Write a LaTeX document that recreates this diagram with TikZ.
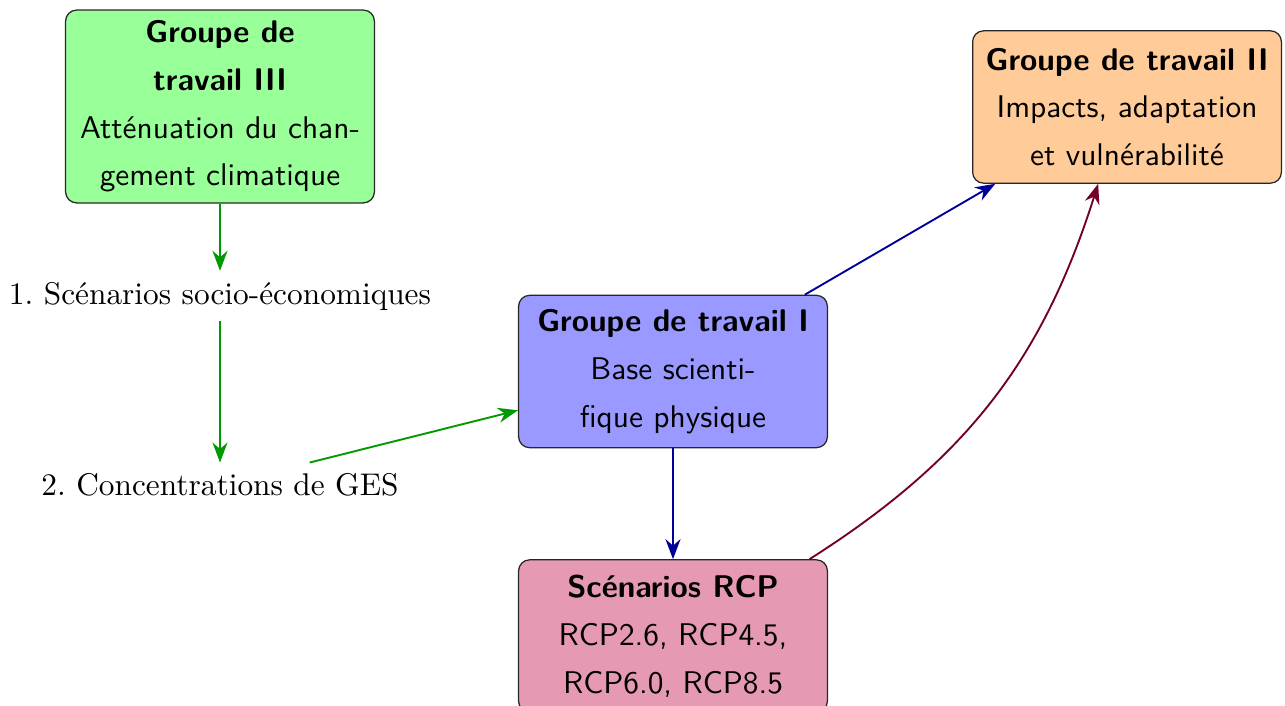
\documentclass[tikz,border=0pt]{standalone}
\usepackage{fontspec}
\usepackage{tikz}
\usetikzlibrary{arrows.meta}

\begin{document}
\begin{tikzpicture}
  [x=0.319pt,y=-0.319pt,
   wgbox/.style={draw=black!85,rounded corners=3.5pt,align=center,minimum width=98.5pt,
     minimum height=48.6pt,font={\sffamily\linespread{1.27}\selectfont}},
   garrow/.style={draw=green!60!black,semithick,-{Stealth[length=6.4pt,width=4.8pt]}},
   barrow/.style={draw=blue!60!black,semithick,-{Stealth[length=6.4pt,width=4.8pt]}},
   parrow/.style={draw=purple!60!black,semithick,-{Stealth[length=6.4pt,width=4.8pt]}}]
  \useasboundingbox (0,0) rectangle (1285,706);

  \node[wgbox,fill=green!40] (g3) at (220,106.5) {\textbf{Groupe de}\\\textbf{travail III}\\Atténuation du chan-\\gement climatique};
  \node[wgbox,fill=orange!40] (g2) at (1127,107) {\textbf{Groupe de travail II}\\Impacts, adaptation\\et vulnérabilité};
  \node[wgbox,fill=blue!40] (g1) at (673,371.5) {\textbf{Groupe de travail I}\\Base scienti-\\fique physique};
  \node[wgbox,fill=purple!40] (rcp) at (673,636) {\textbf{Scénarios RCP}\\RCP2.6, RCP4.5,\\RCP6.0, RCP8.5};

  \node (s1) at (220,296) {1.\ Scénarios socio-économiques};
  \node (s2) at (220,485) {2.\ Concentrations de GES};

  \draw[garrow] (g3) -- (s1);
  \draw[garrow] (s1) -- (s2);
  \draw[garrow] (s2) -- (g1);
  \draw[barrow] (g1) -- (g2);
  \draw[barrow] (g1) -- (rcp);
  \draw[parrow] (rcp) to[bend right=20] (g2);
\end{tikzpicture}
\end{document}
